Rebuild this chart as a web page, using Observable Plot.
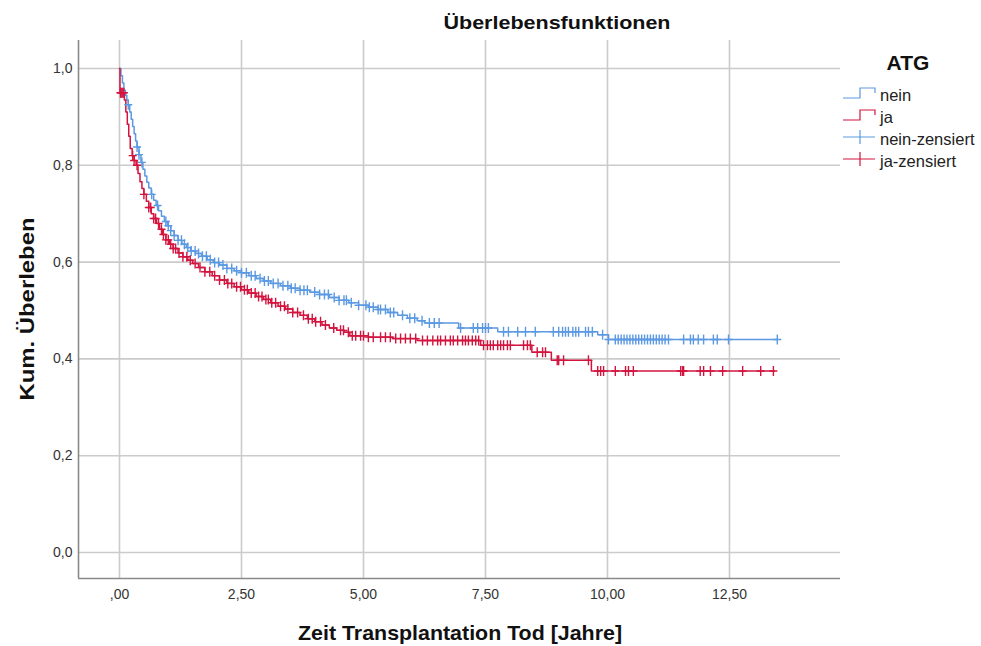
<!DOCTYPE html>
<html>
<head>
<meta charset="utf-8">
<script src="https://cdn.jsdelivr.net/npm/d3@7"></script>
<script src="https://cdn.jsdelivr.net/npm/@observablehq/plot@0.6"></script>
<style>
  html, body { margin: 0; padding: 0; background: #fff; }
  #wrap { position: relative; width: 981px; height: 646px; font-family: "Liberation Sans", Arial, sans-serif; }
  #wrap svg.overlay { position: absolute; left: 0; top: 0; pointer-events: none; }
</style>
</head>
<body>
<div id="wrap"></div>
<script>
// ---- Data ----
const title = "Überlebensfunktionen";
const xLabel = "Zeit Transplantation Tod [Jahre]";
const yLabel = "Kum. Überleben";
const legendTitle = "ATG";
const groups = ["nein", "ja"];
const legendLabels = ["nein", "ja", "nein-zensiert", "ja-zensiert"];

const xTicks = [0, 2.5, 5, 7.5, 10, 12.5];
const yTicks = [0, 0.2, 0.4, 0.6, 0.8, 1.0];
const xDomain = [-0.84, 14.775];
const yDomain = [-0.0537, 1.0579];

// Kaplan-Meier step points [time, survival] – group "nein"
const neinSteps = [
  [0,1.0],[0.03,0.985],[0.06,0.97],[0.09,0.955],[0.12,0.945],[0.15,0.935],[0.18,0.925],
  [0.21,0.91],[0.24,0.895],[0.27,0.88],[0.3,0.865],[0.33,0.85],[0.36,0.838],[0.4,0.822],
  [0.44,0.806],[0.48,0.792],[0.52,0.778],[0.56,0.765],[0.6,0.753],[0.65,0.74],[0.7,0.728],
  [0.75,0.717],[0.8,0.706],[0.86,0.695],[0.92,0.684],[0.98,0.675],[1.05,0.665],[1.12,0.655],
  [1.2,0.645],[1.28,0.637],[1.37,0.63],[1.46,0.623],[1.56,0.618],[1.68,0.612],[1.8,0.605],
  [1.92,0.599],[2.05,0.594],[2.2,0.587],[2.35,0.582],[2.5,0.578],[2.65,0.572],[2.8,0.566],
  [2.95,0.561],[3.1,0.556],[3.3,0.551],[3.5,0.546],[3.7,0.542],[3.9,0.538],[4.1,0.533],
  [4.3,0.527],[4.5,0.521],[4.7,0.516],[4.9,0.511],[5.1,0.507],[5.3,0.502],[5.5,0.496],
  [5.7,0.49],[5.9,0.484],[6.1,0.479],[6.25,0.474],[6.95,0.464],[7.75,0.456],[9.8,0.45],
  [10.02,0.44],[13.48,0.44]
];
// group "ja"
const jaSteps = [
  [0,1.0],[0.01,0.95],[0.1,0.935],[0.13,0.91],[0.16,0.885],[0.19,0.86],[0.22,0.835],
  [0.26,0.82],[0.3,0.81],[0.34,0.8],[0.38,0.783],[0.42,0.766],[0.46,0.752],[0.5,0.74],
  [0.55,0.726],[0.6,0.713],[0.65,0.7],[0.7,0.69],[0.76,0.68],[0.82,0.668],[0.88,0.657],
  [0.95,0.646],[1.02,0.637],[1.1,0.628],[1.2,0.619],[1.3,0.611],[1.4,0.604],[1.5,0.597],
  [1.62,0.589],[1.75,0.58],[1.9,0.572],[2.05,0.563],[2.2,0.556],[2.35,0.549],[2.5,0.543],
  [2.65,0.536],[2.8,0.529],[2.95,0.523],[3.1,0.516],[3.25,0.509],[3.4,0.503],[3.55,0.496],
  [3.7,0.49],[3.85,0.483],[4.0,0.477],[4.15,0.47],[4.3,0.464],[4.45,0.459],[4.6,0.455],
  [4.72,0.448],[5.1,0.445],[5.6,0.442],[6.1,0.438],[7.4,0.428],[8.45,0.414],[8.85,0.397],
  [9.67,0.375],[13.42,0.375]
];

// censored times
const neinCensored = [
  0.18,0.36,0.4,0.46,0.66,0.78,0.95,1.0,1.05,1.12,1.2,1.27,1.33,1.4,1.47,1.55,1.62,1.7,1.78,
  1.86,1.95,2.03,2.12,2.2,2.3,2.4,2.5,2.6,2.7,2.78,2.88,2.97,3.05,3.15,3.25,3.35,3.45,3.52,
  3.6,3.7,3.78,3.85,4.0,4.1,4.2,4.28,4.4,4.5,4.6,4.65,4.75,4.9,5.05,5.12,5.2,5.3,5.35,5.45,
  5.55,5.62,5.8,5.95,6.05,6.2,6.35,6.45,6.55,6.99,7.25,7.34,7.44,7.5,7.56,7.87,7.97,8.16,
  8.32,8.52,8.89,9.0,9.08,9.14,9.2,9.29,9.35,9.41,9.55,9.61,9.69,9.9,10.02,10.16,10.22,
  10.28,10.34,10.4,10.46,10.52,10.58,10.64,10.7,10.76,10.82,10.88,10.94,11.0,11.06,11.12,
  11.18,11.25,11.56,11.7,11.76,11.86,11.97,12.17,12.25,12.48,13.48
];
const jaCensored = [
  0.02,0.03,0.05,0.07,0.09,0.27,0.3,0.36,0.5,0.6,0.64,0.7,0.74,0.8,0.86,0.9,0.95,1.0,1.05,
  1.1,1.15,1.22,1.3,1.38,1.45,1.55,1.65,1.75,1.85,1.95,2.05,2.15,2.22,2.3,2.4,2.48,2.56,
  2.62,2.7,2.78,2.85,2.92,3.0,3.05,3.12,3.2,3.3,3.38,3.45,3.55,3.65,3.77,3.87,3.95,4.02,
  4.12,4.22,4.39,4.53,4.59,4.69,4.77,4.84,4.94,5.0,5.1,5.2,5.35,5.45,5.55,5.66,5.76,5.86,
  5.96,6.07,6.21,6.31,6.42,6.52,6.58,6.68,6.78,6.84,6.93,7.03,7.09,7.15,7.23,7.3,7.36,
  7.46,7.54,7.6,7.66,7.75,7.81,7.87,7.95,8.01,8.28,8.36,8.42,8.56,8.67,8.73,8.97,9.0,9.1,
  9.61,9.8,9.86,9.92,10.16,10.37,10.43,10.53,11.5,11.54,11.56,11.9,11.97,12.11,12.36,
  12.77,13.14,13.4
];

// ---- Styles ----
const BLUE = "#5b99e2";
const RED = "#d3143f";
const GRID = "#cbcbcb";
const AXIS = "#8a8a8a";

// ---- Build tables ----
const toRows = (steps, g) => steps.map(([t, s]) => ({t, s, g}));
const stepAt = (steps, t) => { let v = steps[0][1]; for (const [tt, s] of steps) { if (tt <= t) v = s; else break; } return v; };
const censRows = (times, steps, g) => times.map(t => ({t, s: stepAt(steps, t), g}));

const neinRows = toRows(neinSteps, groups[0]);
const jaRows = toRows(jaSteps, groups[1]);
const neinCens = censRows(neinCensored, neinSteps, groups[0]);
const jaCens = censRows(jaCensored, jaSteps, groups[1]);

const fmtX = d => d === 0 ? ",00" : d3.format(".2f")(d).replace(".", ",");
const fmtY = d => d3.format(".1f")(d).replace(".", ",");

// custom "+" censor symbol
const plusSymbol = {
  draw(ctx, size) {
    const r = Math.sqrt(size / Math.PI);
    const h = r * 0.8;
    ctx.moveTo(-h, 0); ctx.lineTo(h, 0);
    ctx.moveTo(0, -r); ctx.lineTo(0, r);
  }
};

const chart = Plot.plot({
  width: 981,
  height: 646,
  marginLeft: 78,
  marginRight: 141,
  marginTop: 40,
  marginBottom: 68,
  style: { fontFamily: "'Liberation Sans', Arial, sans-serif", fontSize: "14px", color: "#333", background: "#fff" },
  x: { domain: xDomain, ticks: xTicks, tickFormat: fmtX, tickSize: 0, tickPadding: 11, label: null, line: false },
  y: { domain: yDomain, ticks: yTicks, tickFormat: fmtY, tickSize: 0, tickPadding: 6, label: null, line: false },
  marks: [
    Plot.ruleX(xTicks, { stroke: GRID, strokeWidth: 1.6 }),
    Plot.ruleY(yTicks, { stroke: GRID, strokeWidth: 1.6 }),
    Plot.ruleX([xDomain[0]], { stroke: AXIS, strokeWidth: 1.6 }),
    Plot.ruleY([yDomain[0]], { stroke: AXIS, strokeWidth: 1.6 }),
    Plot.line(neinRows, { x: "t", y: "s", curve: "step-after", stroke: BLUE, strokeWidth: 1.5 }),
    Plot.line(jaRows, { x: "t", y: "s", curve: "step-after", stroke: RED, strokeWidth: 1.5 }),
    Plot.dot(neinCens, { x: "t", y: "s", symbol: plusSymbol, r: 5, stroke: BLUE, fill: "none", strokeWidth: 1.4 }),
    Plot.dot(jaCens, { x: "t", y: "s", symbol: plusSymbol, r: 5, stroke: RED, fill: "none", strokeWidth: 1.4 })
  ]
});

const wrap = document.getElementById("wrap");
wrap.appendChild(chart);

// ---- Title, axis labels, legend (overlay) ----
const ov = d3.select(wrap).append("svg")
  .attr("class", "overlay").attr("width", 981).attr("height", 646)
  .style("font-family", "'Liberation Sans', Arial, sans-serif");

ov.append("text").text(title)
  .attr("x", 557).attr("y", 29).attr("text-anchor", "middle")
  .attr("font-size", 19).attr("font-weight", "bold").attr("fill", "#111")
  .attr("textLength", 227).attr("lengthAdjust", "spacingAndGlyphs");

ov.append("text").text(xLabel)
  .attr("x", 460).attr("y", 640).attr("text-anchor", "middle")
  .attr("font-size", 21).attr("font-weight", "bold").attr("fill", "#111")
  .attr("textLength", 324).attr("lengthAdjust", "spacingAndGlyphs");

ov.append("text").text(yLabel)
  .attr("transform", "translate(34,309) rotate(-90)").attr("text-anchor", "middle")
  .attr("font-size", 21).attr("font-weight", "bold").attr("fill", "#111")
  .attr("textLength", 183).attr("lengthAdjust", "spacingAndGlyphs");

// legend
ov.append("text").text(legendTitle)
  .attr("x", 908).attr("y", 70).attr("text-anchor", "middle")
  .attr("font-size", 21).attr("font-weight", "bold").attr("fill", "#111");

const legColors = [BLUE, RED, BLUE, RED];
const rowY = [101, 123, 145, 167];
legendLabels.forEach((lab, i) => {
  const y = rowY[i];
  const c = legColors[i];
  if (i < 2) {
    const lo = y - 3, hi = y - 13;
    ov.append("path").attr("d", `M843,${lo}H860V${hi}H875V${hi + 5}`)
      .attr("fill", "none").attr("stroke", c).attr("stroke-width", 1.2);
  } else {
    const m = y - 8;
    ov.append("path").attr("d", `M843,${m}H875M860,${m - 7}V${m + 7}`)
      .attr("fill", "none").attr("stroke", c).attr("stroke-width", 1.2);
  }
  ov.append("text").text(lab).attr("x", 880).attr("y", y)
    .attr("font-size", 16.5).attr("fill", "#222");
});
</script>
</body>
</html>
